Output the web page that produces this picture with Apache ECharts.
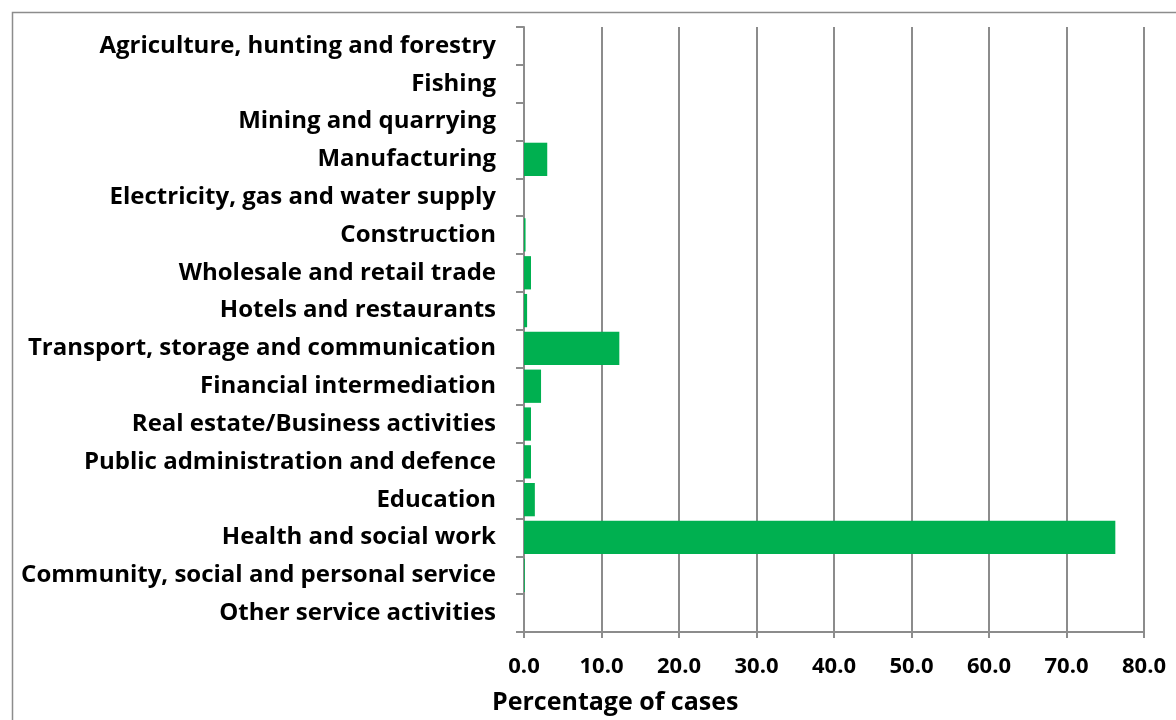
<!DOCTYPE html>
<html>
<head>
<meta charset="utf-8">
<script src="https://cdn.jsdelivr.net/npm/echarts@6/dist/echarts.min.js"></script>
<style>
  html, body { margin: 0; padding: 0; background: #fff; }
  #chart { width: 1176px; height: 720px; }
</style>
</head>
<body>
<div id="chart"></div>
<script>
// 行业分类
var sectors = [
  'Agriculture, hunting and forestry',
  'Fishing',
  'Mining and quarrying',
  'Manufacturing',
  'Electricity, gas and water supply',
  'Construction',
  'Wholesale and retail trade',
  'Hotels and restaurants',
  'Transport, storage and communication',
  'Financial intermediation',
  'Real estate/Business activities',
  'Public administration and defence',
  'Education',
  'Health and social work',
  'Community, social and personal service',
  'Other service activities'
];
// 百分比
var percentCases = [0, 0, 0, 3.0, 0, 0.2, 0.9, 0.4, 12.3, 2.2, 0.9, 0.9, 1.4, 76.3, 0.1, 0];
var xTicks = [0, 10, 20, 30, 40, 50, 60, 70, 80];

var myChart = echarts.init(document.getElementById('chart'));
var grey = '#8c8c8c';
var font = 'Open Sans';
var option = {
  animation: false,
  textStyle: { fontFamily: font },
  graphic: [{
    type: 'rect',
    left: 10, top: 10,
    shape: { width: 1200, height: 760 },
    style: { fill: 'none', stroke: grey, lineWidth: 1.5 }
  }],
  title: {
    text: 'Percentage of cases',
    left: 487,
    top: 685,
    textStyle: { fontSize: 25, fontWeight: 'bold', color: '#000', fontFamily: font }
  },
  grid: { left: 524, right: 32, top: 27, bottom: 88 },
  xAxis: {
    type: 'value',
    min: xTicks[0],
    max: xTicks[xTicks.length - 1],
    interval: 10,
    axisLine: { show: true, lineStyle: { color: grey, width: 2 } },
    axisTick: { show: true, length: 6, lineStyle: { color: grey, width: 2 } },
    splitLine: { show: true, lineStyle: { color: grey, width: 2 } },
    axisLabel: {
      color: '#000', fontSize: 22, fontWeight: 'bold', margin: 24, fontFamily: font,
      formatter: function (v) { return v.toFixed(1); }
    }
  },
  yAxis: {
    type: 'category',
    inverse: true,
    data: sectors,
    axisLine: { show: true, lineStyle: { color: grey, width: 2 } },
    axisTick: { show: true, length: 8, alignWithLabel: false, lineStyle: { color: grey, width: 2 } },
    axisLabel: { color: '#000', fontSize: 24, fontWeight: 'bold', margin: 28, fontFamily: font }
  },
  series: [{
    type: 'bar',
    data: percentCases,
    barCategoryGap: '12%',
    itemStyle: { color: '#00b050' }
  }]
};
myChart.setOption(option);
</script>
</body>
</html>
